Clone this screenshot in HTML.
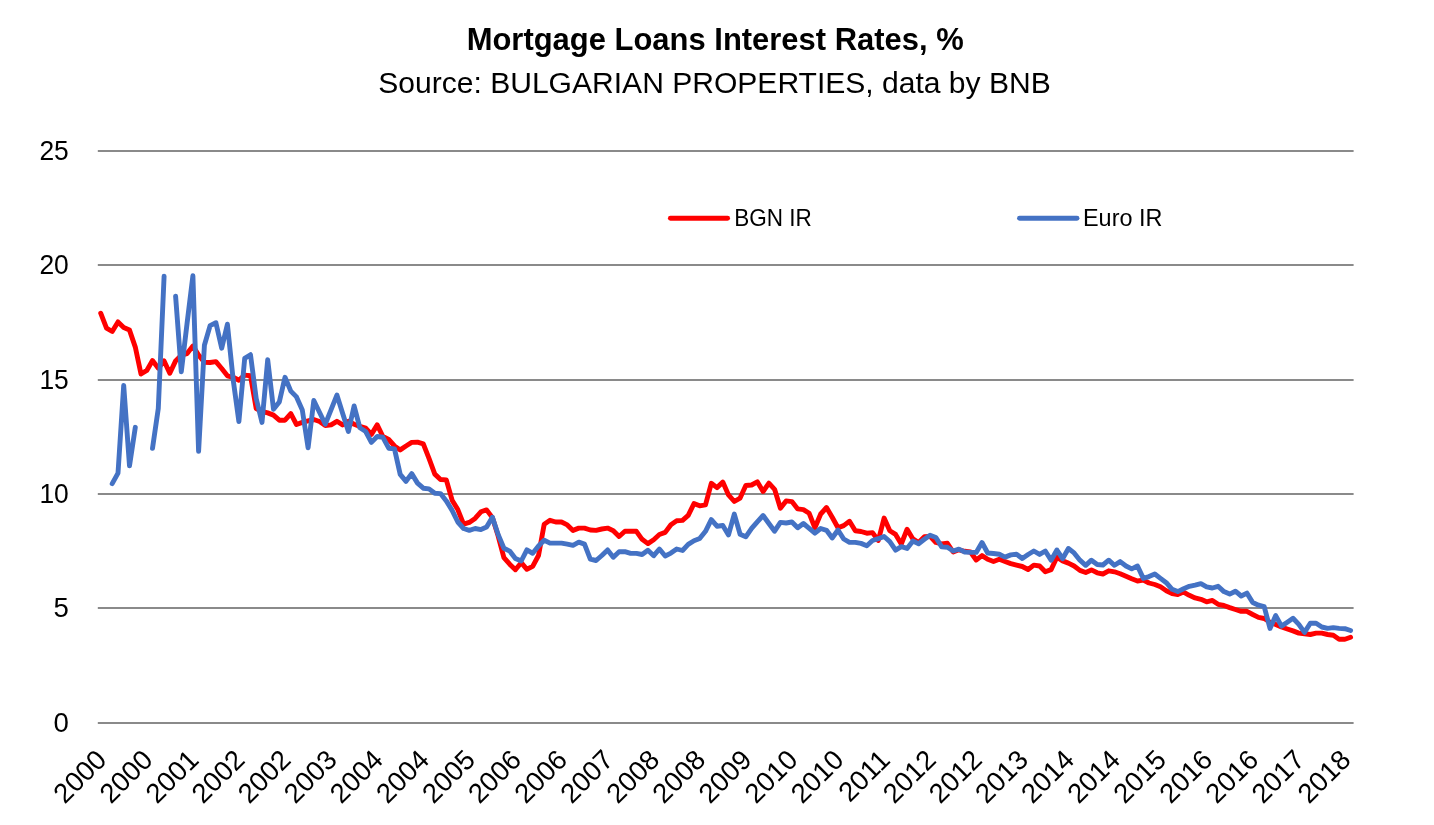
<!DOCTYPE html>
<html lang="en"><head><meta charset="utf-8"><title>Mortgage Loans Interest Rates, %</title>
<style>
html,body{margin:0;padding:0;background:#fff;}
body{width:1434px;height:825px;overflow:hidden;font-family:"Liberation Sans",Arial,sans-serif;}
svg{display:block;}
text{font-family:"Liberation Sans",Arial,sans-serif;fill:#000;}
</style></head><body>
<svg width="1434" height="825" viewBox="0 0 1434 825">
<rect width="1434" height="825" fill="#fff"/>
<text x="715.2" y="49.8" font-size="31" font-weight="bold" text-anchor="middle" textLength="497" lengthAdjust="spacingAndGlyphs">Mortgage Loans Interest Rates, %</text>
<text x="714.5" y="92.9" font-size="30.4" text-anchor="middle" textLength="672.5" lengthAdjust="spacingAndGlyphs">Source: BULGARIAN PROPERTIES, data by BNB</text>
<rect x="97.8" y="722" width="1255.8" height="2" fill="#8A8A8A"/>
<text x="68.8" y="731.9" font-size="27.6" text-anchor="end">0</text>
<rect x="97.8" y="607" width="1255.8" height="2" fill="#8A8A8A"/>
<text x="68.8" y="616.9" font-size="27.6" text-anchor="end">5</text>
<rect x="97.8" y="493" width="1255.8" height="2" fill="#8A8A8A"/>
<text x="68.8" y="502.9" font-size="27.6" text-anchor="end" textLength="29.4" lengthAdjust="spacingAndGlyphs">10</text>
<rect x="97.8" y="379" width="1255.8" height="2" fill="#8A8A8A"/>
<text x="68.8" y="388.9" font-size="27.6" text-anchor="end" textLength="29.4" lengthAdjust="spacingAndGlyphs">15</text>
<rect x="97.8" y="264" width="1255.8" height="2" fill="#8A8A8A"/>
<text x="68.8" y="273.9" font-size="27.6" text-anchor="end" textLength="29.4" lengthAdjust="spacingAndGlyphs">20</text>
<rect x="97.8" y="150" width="1255.8" height="2" fill="#8A8A8A"/>
<text x="68.8" y="159.9" font-size="27.6" text-anchor="end" textLength="29.4" lengthAdjust="spacingAndGlyphs">25</text>
<text transform="translate(108.1,761.4) rotate(-45)" font-size="27.5" text-anchor="end">2000</text>
<text transform="translate(154.2,761.4) rotate(-45)" font-size="27.5" text-anchor="end">2000</text>
<text transform="translate(200.3,761.4) rotate(-45)" font-size="27.5" text-anchor="end">2001</text>
<text transform="translate(246.3,761.4) rotate(-45)" font-size="27.5" text-anchor="end">2002</text>
<text transform="translate(292.4,761.4) rotate(-45)" font-size="27.5" text-anchor="end">2002</text>
<text transform="translate(338.5,761.4) rotate(-45)" font-size="27.5" text-anchor="end">2003</text>
<text transform="translate(384.6,761.4) rotate(-45)" font-size="27.5" text-anchor="end">2004</text>
<text transform="translate(430.7,761.4) rotate(-45)" font-size="27.5" text-anchor="end">2004</text>
<text transform="translate(476.7,761.4) rotate(-45)" font-size="27.5" text-anchor="end">2005</text>
<text transform="translate(522.8,761.4) rotate(-45)" font-size="27.5" text-anchor="end">2006</text>
<text transform="translate(568.9,761.4) rotate(-45)" font-size="27.5" text-anchor="end">2006</text>
<text transform="translate(615.0,761.4) rotate(-45)" font-size="27.5" text-anchor="end">2007</text>
<text transform="translate(661.1,761.4) rotate(-45)" font-size="27.5" text-anchor="end">2008</text>
<text transform="translate(707.1,761.4) rotate(-45)" font-size="27.5" text-anchor="end">2008</text>
<text transform="translate(753.2,761.4) rotate(-45)" font-size="27.5" text-anchor="end">2009</text>
<text transform="translate(799.3,761.4) rotate(-45)" font-size="27.5" text-anchor="end">2010</text>
<text transform="translate(845.4,761.4) rotate(-45)" font-size="27.5" text-anchor="end">2010</text>
<text transform="translate(891.5,761.4) rotate(-45)" font-size="27.5" text-anchor="end">2011</text>
<text transform="translate(937.5,761.4) rotate(-45)" font-size="27.5" text-anchor="end">2012</text>
<text transform="translate(983.6,761.4) rotate(-45)" font-size="27.5" text-anchor="end">2012</text>
<text transform="translate(1029.7,761.4) rotate(-45)" font-size="27.5" text-anchor="end">2013</text>
<text transform="translate(1075.8,761.4) rotate(-45)" font-size="27.5" text-anchor="end">2014</text>
<text transform="translate(1121.9,761.4) rotate(-45)" font-size="27.5" text-anchor="end">2014</text>
<text transform="translate(1167.9,761.4) rotate(-45)" font-size="27.5" text-anchor="end">2015</text>
<text transform="translate(1214.0,761.4) rotate(-45)" font-size="27.5" text-anchor="end">2016</text>
<text transform="translate(1260.1,761.4) rotate(-45)" font-size="27.5" text-anchor="end">2016</text>
<text transform="translate(1306.2,761.4) rotate(-45)" font-size="27.5" text-anchor="end">2017</text>
<text transform="translate(1352.3,761.4) rotate(-45)" font-size="27.5" text-anchor="end">2018</text>
<line x1="670.4" y1="218.3" x2="727.6" y2="218.3" stroke="#FF0000" stroke-width="4.9" stroke-linecap="round"/>
<text x="734.3" y="225.6" font-size="24.4" textLength="77.6" lengthAdjust="spacingAndGlyphs">BGN IR</text>
<line x1="1019.5" y1="218.3" x2="1077" y2="218.3" stroke="#4472C4" stroke-width="4.9" stroke-linecap="round"/>
<text x="1083" y="225.6" font-size="24.4" textLength="79.4" lengthAdjust="spacingAndGlyphs">Euro IR</text>
<polyline points="100.7,313.2 106.5,328.2 112.2,331.5 118.0,321.9 123.7,327.5 129.5,330.1 135.3,347.1 141.0,374.0 146.8,370.4 152.5,360.6 158.3,368.2 164.1,360.9 169.8,373.3 175.6,360.9 181.3,355.1 187.1,353.6 192.9,346.1 198.6,355.1 204.4,362.2 210.1,362.5 215.9,361.6 221.7,368.5 227.4,375.8 233.2,377.3 238.9,380.2 244.7,375.1 250.5,375.8 256.2,408.5 262.0,411.5 267.7,412.9 273.5,415.1 279.3,420.2 285.0,420.2 290.8,413.6 296.5,424.5 302.3,422.4 308.1,420.9 313.8,419.5 319.6,421.5 325.3,425.6 331.1,424.9 336.9,421.3 342.6,424.9 348.4,421.3 354.1,424.2 359.9,426.4 365.7,428.1 371.4,434.4 377.2,424.9 382.9,436.5 388.7,439.5 394.5,446.0 400.2,449.9 406.0,446.0 411.7,442.4 417.5,442.1 423.3,443.8 429.0,458.4 434.8,474.1 440.5,479.5 446.3,479.9 452.1,500.2 457.8,509.6 463.6,524.2 469.3,522.4 475.1,518.4 480.9,511.8 486.6,509.9 492.4,517.6 498.1,535.8 503.9,557.6 509.7,564.2 515.4,569.7 521.2,562.7 526.9,569.3 532.7,566.4 538.5,555.5 544.2,524.2 550.0,520.3 555.7,522.0 561.5,522.0 567.3,524.9 573.0,530.4 578.8,528.1 584.5,528.1 590.3,530.0 596.1,530.4 601.8,529.0 607.6,528.1 613.3,530.7 619.1,536.5 624.9,531.3 630.6,531.3 636.4,531.3 642.1,539.3 647.9,543.6 653.7,539.7 659.4,534.5 665.2,532.4 670.9,524.7 676.7,520.8 682.5,520.4 688.2,515.3 694.0,503.6 699.7,505.8 705.5,504.8 711.3,483.3 717.0,487.6 722.8,482.1 728.5,494.9 734.3,501.5 740.1,498.1 745.8,485.5 751.6,485.0 757.3,481.8 763.1,491.5 768.9,483.2 774.6,489.3 780.4,508.2 786.1,500.9 791.9,501.6 797.7,508.9 803.4,509.6 809.2,513.3 814.9,527.8 820.7,514.0 826.5,507.5 832.2,517.2 838.0,527.8 843.7,525.6 849.5,521.3 855.3,530.7 861.0,531.5 866.8,533.2 872.5,532.6 878.3,540.5 884.1,518.1 889.8,530.7 895.6,534.4 901.3,544.0 907.1,529.2 912.9,538.9 918.6,542.5 924.4,536.7 930.1,536.4 935.9,542.5 941.7,544.0 947.4,543.3 953.2,552.0 958.9,549.8 964.7,551.3 970.5,552.0 976.2,560.0 982.0,555.6 987.7,559.3 993.5,561.5 999.3,559.3 1005.0,561.5 1010.8,563.6 1016.5,565.1 1022.3,566.5 1028.1,569.5 1033.8,565.1 1039.6,566.0 1045.3,571.8 1051.1,569.6 1056.9,557.3 1062.6,560.9 1068.4,563.1 1074.1,566.0 1079.9,570.4 1085.7,572.5 1091.4,569.9 1097.2,572.8 1102.9,574.0 1108.7,570.8 1114.5,571.8 1120.2,573.7 1126.0,576.2 1131.7,578.7 1137.5,581.0 1143.3,580.1 1149.0,583.0 1154.8,584.5 1160.5,586.8 1166.3,590.7 1172.1,593.6 1177.8,594.5 1183.6,592.1 1189.3,595.3 1195.1,597.9 1200.9,599.3 1206.6,601.8 1212.4,600.4 1218.1,604.3 1223.9,605.5 1229.7,607.6 1235.4,609.5 1241.2,611.3 1246.9,611.3 1252.7,614.5 1258.5,617.4 1264.2,618.5 1270.0,622.2 1275.7,624.4 1281.5,627.0 1287.3,629.0 1293.0,630.9 1298.8,633.1 1304.5,633.8 1310.3,634.5 1316.1,633.1 1321.8,633.1 1327.6,634.5 1333.3,635.3 1339.1,639.2 1344.9,639.2 1350.6,637.2" fill="none" stroke="#FF0000" stroke-width="4.9" stroke-linejoin="round" stroke-linecap="round"/>
<polyline points="112.2,483.6 118.0,473.1 123.7,385.5 129.5,465.8 135.3,427.3" fill="none" stroke="#4472C4" stroke-width="4.9" stroke-linejoin="round" stroke-linecap="round"/>
<polyline points="152.5,448.4 158.3,408.4 164.1,276.1" fill="none" stroke="#4472C4" stroke-width="4.9" stroke-linejoin="round" stroke-linecap="round"/>
<polyline points="175.6,296.2 181.3,371.8 187.1,323.1 192.9,275.8 198.6,451.3 204.4,345.3 210.1,325.6 215.9,322.7 221.7,348.2 227.4,324.2 233.2,379.9 238.9,421.6 244.7,358.4 250.5,354.7 256.2,398.5 262.0,422.4 267.7,359.8 273.5,409.3 279.3,402.0 285.0,377.3 290.8,391.1 296.5,396.9 302.3,410.0 308.1,447.8 313.8,400.5 319.6,412.5 325.3,424.2 331.1,409.6 336.9,395.1 342.6,413.3 348.4,431.5 354.1,406.0 359.9,427.8 365.7,431.5 371.4,442.4 377.2,436.5 382.9,437.3 388.7,448.2 394.5,448.9 400.2,474.4 406.0,481.3 411.7,473.6 417.5,483.1 423.3,488.2 429.0,488.9 434.8,493.3 440.5,493.6 446.3,500.9 452.1,510.4 457.8,522.0 463.6,528.5 469.3,530.3 475.1,528.5 480.9,529.6 486.6,527.1 492.4,517.2 498.1,534.4 503.9,548.2 509.7,551.1 515.4,558.4 521.2,561.0 526.9,549.9 532.7,553.3 538.5,546.0 544.2,540.2 550.0,543.1 555.7,543.1 561.5,543.1 567.3,544.1 573.0,545.3 578.8,542.1 584.5,544.1 590.3,559.1 596.1,560.5 601.8,555.5 607.6,549.9 613.3,557.2 619.1,551.8 624.9,551.6 630.6,553.4 636.4,553.4 642.1,554.5 647.9,550.2 653.7,555.7 659.4,549.0 665.2,556.0 670.9,553.1 676.7,549.0 682.5,550.5 688.2,544.4 694.0,540.7 699.7,538.5 705.5,531.3 711.3,519.6 717.0,526.2 722.8,525.5 728.5,534.9 734.3,514.1 740.1,534.2 745.8,536.8 751.6,528.4 757.3,521.8 763.1,515.5 768.9,523.5 774.6,531.2 780.4,522.4 786.1,523.0 791.9,522.0 797.7,527.8 803.4,523.5 809.2,528.3 814.9,533.2 820.7,528.5 826.5,530.3 832.2,538.0 838.0,530.0 843.7,539.0 849.5,542.4 855.3,542.4 861.0,543.4 866.8,545.7 872.5,540.5 878.3,538.7 884.1,536.5 889.8,541.6 895.6,550.1 901.3,546.6 907.1,548.4 912.9,541.1 918.6,543.7 924.4,539.3 930.1,535.3 935.9,537.5 941.7,546.9 947.4,547.2 953.2,551.0 958.9,549.1 964.7,552.0 970.5,552.4 976.2,552.4 982.0,542.5 987.7,553.0 993.5,553.5 999.3,554.2 1005.0,557.1 1010.8,554.9 1016.5,554.2 1022.3,558.5 1028.1,554.5 1033.8,551.0 1039.6,554.4 1045.3,551.0 1051.1,560.2 1056.9,550.0 1062.6,558.7 1068.4,548.5 1074.1,552.9 1079.9,560.2 1085.7,565.3 1091.4,560.2 1097.2,564.5 1102.9,565.0 1108.7,560.2 1114.5,565.3 1120.2,561.6 1126.0,566.0 1131.7,568.9 1137.5,566.0 1143.3,578.4 1149.0,576.6 1154.8,574.0 1160.5,578.4 1166.3,582.7 1172.1,589.3 1177.8,591.6 1183.6,588.7 1189.3,586.3 1195.1,585.1 1200.9,583.6 1206.6,586.8 1212.4,588.0 1218.1,586.3 1223.9,591.6 1229.7,594.1 1235.4,591.2 1241.2,596.0 1246.9,593.1 1252.7,602.5 1258.5,605.2 1264.2,606.6 1270.0,628.4 1275.7,615.6 1281.5,626.1 1287.3,622.2 1293.0,618.3 1298.8,624.4 1304.5,632.4 1310.3,623.2 1316.1,623.2 1321.8,627.0 1327.6,628.4 1333.3,627.6 1339.1,628.4 1344.9,628.7 1350.6,630.5" fill="none" stroke="#4472C4" stroke-width="4.9" stroke-linejoin="round" stroke-linecap="round"/>
</svg>
</body></html>
